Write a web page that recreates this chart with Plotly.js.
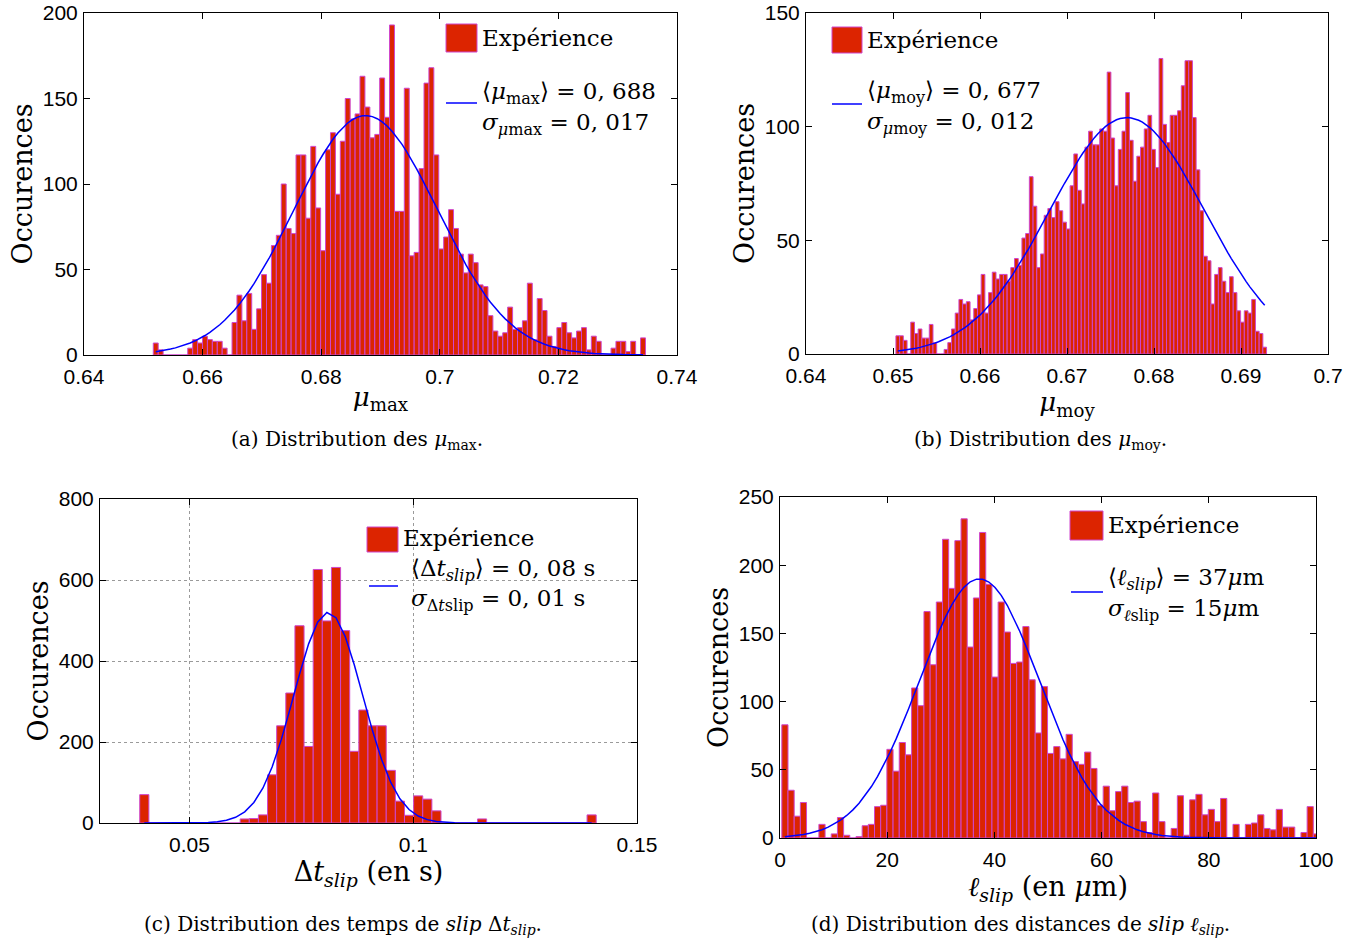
<!DOCTYPE html>
<html>
<head>
<meta charset="utf-8">
<script src="https://cdn.plot.ly/plotly-3.0.1.min.js"></script>
<style>
html,body{margin:0;padding:0;background:#fff;}
#chart{width:1363px;height:945px;}
</style>
</head>
<body>
<div id="chart"></div>
<script>
// ---------- Data ----------
// (a) distribution of mu_max : 100 bins
const binsA = [0.6521, 0.00083];            // first bin centre, bin width
const countsA = [7,3,0,0,0,0,0,4,9,7, 11,9,8,8,4,0,19,35,20,36, 15,27,47,42,64,70,100,74,71,117,
  117,80,122,86,61,120,130,94,125,150, 138,141,163,145,127,129,162,139,193,84,
  84,156,58,60,109,159,168,117,62,69, 85,74,59,48,59,54,41,40,23,14,
  11,13,28,15,16,20,42,9,33,26, 11,5,16,19,13,10,14,16,3,11, 8,0,0,4,8,8,2,8,0,10];
const fitA = [0.6875, 0.0121, 140];        // mean, sigma, peak of the fitted curve

// (b) distribution of mu_moy : 100 bins
const binsB = [0.65055, 0.000426];
const countsB = [8,8,6,0,14,9,11,7,7,13, 5,0,0,2,5,11,18,24,22,23, 15,20,26,35,18,27,36,33,35,35,
  32,38,42,39,51,53,78,65,38,44, 61,64,60,67,63,58,55,74,88,72,
  66,91,98,92,92,99,98,124,95,74, 90,98,115,94,76,87,91,99,105,90,
  82,130,101,93,105,105,107,118,129,129, 104,81,63,43,41,22,35,38,32,27, 34,27,19,14,19,18,24,10,9,3];
const fitB = [0.6769, 0.0089, 104];

// (c) distribution of slip durations : 50 bins
const binsC = [0.0399, 0.00204];
const countsC = [70,0,0,0,0,0,0,0,0,0, 0,10,11,20,119,240,321,487,189,626,
  499,631,475,177,279,240,240,130,54,19, 67,59,30,0,0,0,0,10,0,0, 0,0,0,0,0,0,0,0,0,20];
const fitC = [0.081, 0.0077, 520];

// (d) distribution of slip distances : 87 visible bins
const binsD = [0.916, 1.153];
const countsD = [83,35,16,26,0,0,10,0,3,15, 2,0,1,9,10,23,24,65,49,70,
  61,110,97,166,127,173,219,183,218,234, 140,176,224,186,118,173,151,128,129,155,
  116,77,111,62,67,58,76,56,54,63, 51,24,38,20,34,38,26,27,12,4,
  33,12,0,7,31,2,28,32,17,21, 12,29,0,10,0,10,11,17,7,6, 21,8,8,0,4,23,3];
const fitD = [37.2, 11.2, 190];

// ---------- Styling ----------
const W = 1363, H = 945;
const px = x => x / W;
const py = y => 1 - y / H;
const BAR_FILL = 'rgb(220,36,0)';
const BAR_EDGE = 'rgb(206,70,206)';
const FIT_COL = '#0000ff';
const SERIF = 'DejaVu Serif, Liberation Serif, serif';
const SANS = 'Liberation Sans, Arial, sans-serif';

function centres(bins, n) { const out = []; for (let k = 0; k < n; k++) out.push(bins[0] + k * bins[1]); return out; }
function fitCurve(xs, p) { return xs.map(x => p[2] * Math.exp(-(x - p[0]) * (x - p[0]) / (2 * p[1] * p[1]))); }

function panel(bins, counts, fit, n) {
  const xs = centres(bins, counts.length);
  return [
    {type: 'bar', x: xs, y: counts, width: bins[1],
     marker: {color: BAR_FILL, line: {color: BAR_EDGE, width: 1}},
     xaxis: 'x' + n, yaxis: 'y' + n, showlegend: false, hoverinfo: 'x+y'},
    {type: 'scatter', mode: 'lines', x: xs, y: fitCurve(xs, fit),
     line: {color: FIT_COL, width: 1.5}, xaxis: 'x' + n, yaxis: 'y' + n, showlegend: false}
  ];
}
const data = [].concat(
  panel(binsA, countsA, fitA, ''),
  panel(binsB, countsB, fitB, '2'),
  panel(binsC, countsC, fitC, '3'),
  panel(binsD, countsD, fitD, '4')
);

function axis(extra) {
  return Object.assign({
    showline: true, linecolor: '#000', linewidth: 1, mirror: 'ticks',
    ticks: 'inside', ticklen: 6, tickcolor: '#000', tickwidth: 1,
    zeroline: false, showgrid: false, fixedrange: true,
    tickfont: {family: SANS, size: 21, color: '#000'}
  }, extra);
}
const xfix = {ticklabelstandoff: 3};
const yfix = {ticklabelstandoff: 1};
const occ = {text: 'Occurences', font: {family: SERIF, size: 27, color: '#000'}, standoff: 2};

const layout = {
  width: W, height: H, margin: {l: 0, r: 0, t: 0, b: 0},
  paper_bgcolor: '#fff', plot_bgcolor: '#fff', bargap: 0, showlegend: false,
  xaxis: axis(Object.assign({domain: [px(84), px(677)], range: [0.64, 0.74], tick0: 0.64, dtick: 0.02, anchor: 'y',
    title: {text: '<i>μ</i><sub>max</sub>', font: {family: SERIF, size: 26, color: '#000'}, standoff: 0}}, xfix)),
  yaxis: axis(Object.assign({domain: [py(355), py(13)], range: [0, 200], dtick: 50, anchor: 'x', title: occ}, yfix)),
  xaxis2: axis(Object.assign({domain: [px(806), px(1328)], range: [0.64, 0.7], tick0: 0.64, dtick: 0.01, anchor: 'y2',
    title: {text: '<i>μ</i><sub>moy</sub>', font: {family: SERIF, size: 26, color: '#000'}, standoff: 0}}, xfix)),
  yaxis2: axis(Object.assign({domain: [py(354), py(13)], range: [0, 150], dtick: 50, anchor: 'x2', title: occ}, yfix)),
  xaxis3: axis(Object.assign({domain: [px(100), px(637)], range: [0.03, 0.15], tickvals: [0.05, 0.1, 0.15], anchor: 'y3',
    showgrid: true, gridcolor: '#9a9a9a', griddash: 'dot', gridwidth: 1,
    title: {text: 'Δ<i>t<sub>slip</sub></i> (en s)', font: {family: SERIF, size: 27, color: '#000'}, standoff: 0}}, xfix)),
  yaxis3: axis(Object.assign({domain: [py(823), py(499)], range: [0, 800], dtick: 200, anchor: 'x3',
    showgrid: true, gridcolor: '#9a9a9a', griddash: 'dot', gridwidth: 1, title: occ}, yfix)),
  xaxis4: axis(Object.assign({domain: [px(780), px(1316)], range: [0, 100], dtick: 20, anchor: 'y4',
    title: {text: '<i>ℓ<sub>slip</sub></i> (en <i>μ</i>m)', font: {family: SERIF, size: 27, color: '#000'}, standoff: 0}}, xfix)),
  yaxis4: axis(Object.assign({domain: [py(838), py(497)], range: [0, 250], dtick: 50, anchor: 'x4', title: occ}, yfix)),
  shapes: [],
  annotations: []
};

// legends (drawn as decorations)
function legend(sw, line, txt) {
  layout.shapes.push({type: 'rect', xref: 'paper', yref: 'paper', x0: px(sw[0]), x1: px(sw[1]), y0: py(sw[2]), y1: py(sw[3]),
    fillcolor: BAR_FILL, line: {color: BAR_EDGE, width: 1}, layer: 'above'});
  layout.shapes.push({type: 'line', xref: 'paper', yref: 'paper', x0: px(line[0]), x1: px(line[1]), y0: py(line[2]), y1: py(line[2]),
    line: {color: FIT_COL, width: 1.5}, layer: 'above'});
  txt.forEach(t => layout.annotations.push({xref: 'paper', yref: 'paper', x: px(t[1]), y: py(t[2]), xanchor: 'left', yanchor: 'middle',
    text: t[0], showarrow: false, font: {family: SERIF, size: 23, color: '#000'}}));
}
legend([446, 477, 24, 52], [446, 477, 103], [
  ['Expérience', 480, 38], ['⟨<i>μ</i><sub>max</sub>⟩ = 0, 688', 480, 93], ['<i>σ</i><sub><i>μ</i>max</sub> = 0, 017', 480, 124]]);
legend([832, 862, 27, 53], [832, 862, 104], [
  ['Expérience', 865, 40], ['⟨<i>μ</i><sub>moy</sub>⟩ = 0, 677', 865, 92], ['<i>σ</i><sub><i>μ</i>moy</sub> = 0, 012', 865, 123]]);
layout.shapes.push({type: 'rect', xref: 'paper', yref: 'paper', x0: px(364), x1: px(612), y0: py(615), y1: py(522),
  fillcolor: '#fff', line: {width: 0}, layer: 'between'});
legend([367, 398, 527, 552], [369, 398, 586], [
  ['Expérience', 401, 538], ['⟨Δ<i>t<sub>slip</sub></i>⟩ = 0, 08 s', 409, 570], ['<i>σ</i><sub>Δ<i>t</i>slip</sub> = 0, 01 s', 409, 600]]);
legend([1070, 1103, 511, 540], [1071, 1103, 592], [
  ['Expérience', 1106, 525], ['⟨<i>ℓ<sub>slip</sub></i>⟩ = 37<i>μ</i>m', 1106, 579], ['<i>σ</i><sub><i>ℓ</i>slip</sub> = 15<i>μ</i>m', 1106, 610]]);

// captions
[['(a) Distribution des <i>μ</i><sub>max</sub>.', 357, 440],
 ['(b) Distribution des <i>μ</i><sub>moy</sub>.', 1040, 440],
 ['(c) Distribution des temps de <i>slip</i> Δ<i>t<sub>slip</sub></i>.', 343, 925],
 ['(d) Distribution des distances de <i>slip</i> <i>ℓ<sub>slip</sub></i>.', 1020, 925]].forEach(c =>
  layout.annotations.push({xref: 'paper', yref: 'paper', x: px(c[1]), y: py(c[2]), xanchor: 'center', yanchor: 'middle',
    text: c[0], showarrow: false, font: {family: SERIF, size: 20, color: '#000'}}));

Plotly.newPlot('chart', data, layout, {staticPlot: true, displayModeBar: false});
</script>
</body>
</html>
